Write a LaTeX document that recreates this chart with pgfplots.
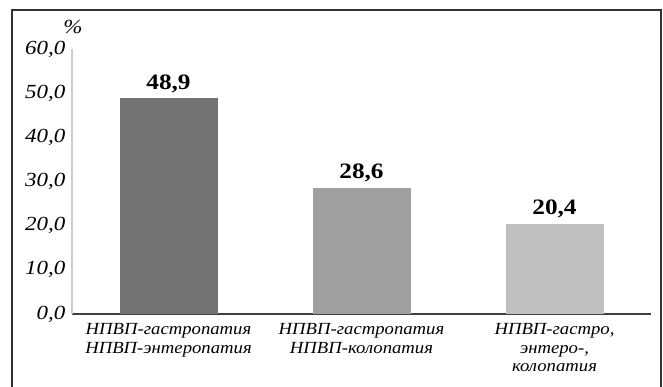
\documentclass[border=0pt]{standalone}
\usepackage{fontspec}
\setmainfont{Liberation Serif}
\newfontfamily\tickfont[FakeStretch=1.15]{Liberation Serif}
\newfontfamily\catfont[FakeStretch=1.1]{Liberation Serif}
\usepackage{pgfplots}
\pgfplotsset{compat=1.18}
\definecolor{barA}{HTML}{737373}
\definecolor{barB}{HTML}{A0A0A0}
\definecolor{barC}{HTML}{C0C0C0}
\begin{document}
\begin{tikzpicture}
\useasboundingbox (0,0) rectangle (663pt,386pt);
\draw[line width=1.3pt, black!80] (12pt,-10pt) -- (12pt,376pt) -- (661pt,376pt) -- (661pt,-10pt);
\begin{axis}[
  at={(72pt,72pt)}, anchor=south west,
  scale only axis, width=579pt, height=265pt,
  xmin=-0.5, xmax=2.5, ymin=0, ymax=60,
  axis x line*=bottom, axis y line*=left,
  x axis line style={-, draw=black!75, line width=1.5pt},
  y axis line style={-, draw=black!20, line width=1.5pt},
  major tick length=0pt,
  ytick={0,10,...,60},
  xtick={0,1,2},
  xticklabels={{НПВП-гастропатия\\НПВП-энтеропатия},{НПВП-гастропатия\\НПВП-колопатия},{НПВП-гастро,\\энтеро-,\\колопатия}},
  xticklabel style={align=center, font=\catfont\itshape\fontsize{17}{18.5}\selectfont, yshift=-6pt},
  yticklabel style={font=\tickfont\itshape\fontsize{20}{22}\selectfont, xshift=-3pt},
  /pgf/number format/.cd, fixed, fixed zerofill, precision=1, use comma, assume math mode=true,
  /pgfplots/.cd,
  ybar, bar width=98pt, bar shift=0pt,
  nodes near coords,
  every node near coord/.append style={font=\tickfont\bfseries\fontsize{22}{24}\selectfont, black, yshift=2pt},
  clip=false,
]
\addplot[fill=barA, draw=none] coordinates {(0,48.9)};
\addplot[fill=barB, draw=none] coordinates {(1,28.6)};
\addplot[fill=barC, draw=none] coordinates {(2,20.4)};
\end{axis}
\node[font=\tickfont\itshape\fontsize{20}{22}\selectfont] at (73pt,359pt) {\%};
\end{tikzpicture}
\end{document}
